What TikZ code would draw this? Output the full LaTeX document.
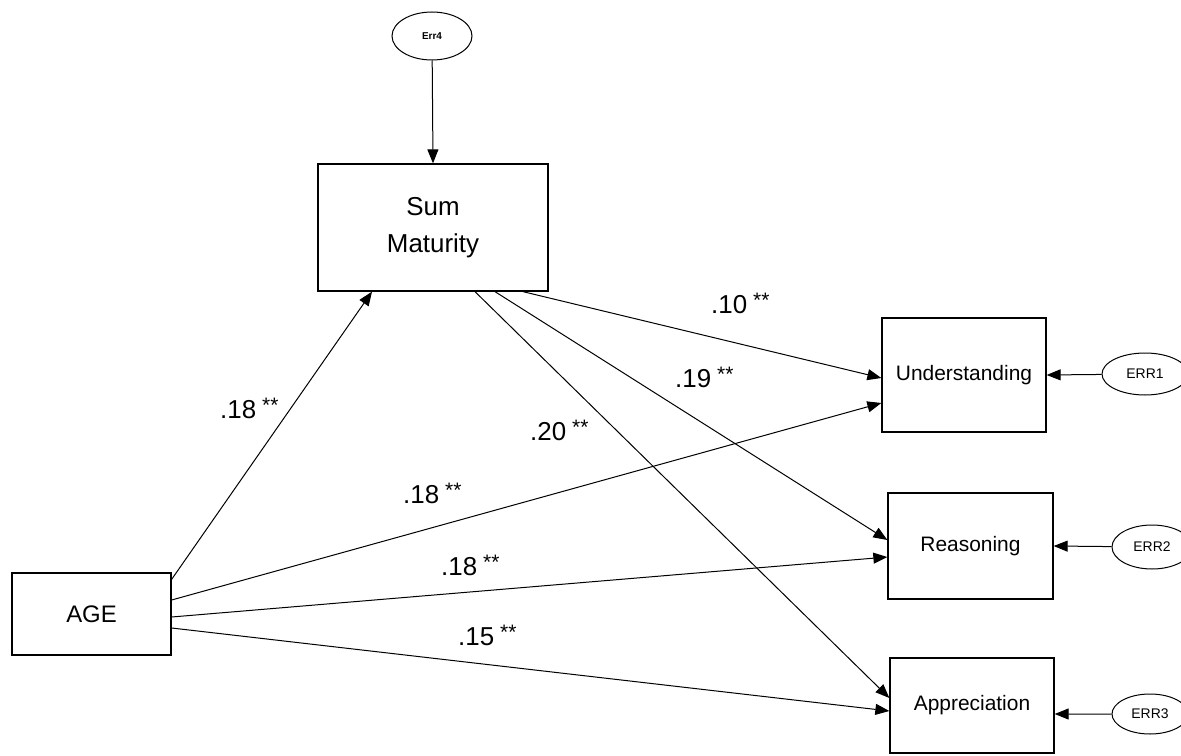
\documentclass[tikz,border=0pt]{standalone}
\usepackage{fontspec}
\setmainfont{Liberation Sans}
\usetikzlibrary{arrows.meta,shapes.geometric}
\newcommand{\stars}{\hspace{6bp}\raisebox{6bp}{\fontsize{21}{21}\selectfont **}}
\tikzset{
  varbox/.style={draw, line width=1.3bp, rectangle, inner sep=0pt, align=center},
  errnode/.style={draw, line width=1bp, ellipse, inner sep=0pt,
    font=\fontsize{14}{14}\selectfont},
  path/.style={line width=1bp, -{Triangle[length=14bp,width=11bp]}},
  coef/.style={inner sep=0pt, anchor=west, font=\fontsize{26}{26}\selectfont},
}
\begin{document}
\begin{tikzpicture}[x=1bp, y=-1bp]
\clip (0,0) rectangle (1181,756);
\fill[white] (0,0) rectangle (1181,756);

% observed variables
\node[varbox, minimum width=159bp, minimum height=82bp, font=\fontsize{24}{24}\selectfont] (age) at (91.5,614) {AGE};
\node[varbox, minimum width=230bp, minimum height=127bp, font=\fontsize{26}{37}\selectfont] (sum) at (433,227.5) {Sum\\Maturity};
\node[varbox, minimum width=164bp, minimum height=114bp, font=\fontsize{21}{21}\selectfont] (und) at (964,375) {Understanding};
\node[varbox, minimum width=165bp, minimum height=106bp, font=\fontsize{21}{21}\selectfont] (rea) at (970.5,546) {Reasoning};
\node[varbox, minimum width=164bp, minimum height=95bp, font=\fontsize{21}{21}\selectfont] (app) at (972,705.5) {Appreciation};

% error terms
\node[errnode, minimum width=80bp, minimum height=48bp, font=\fontsize{10}{10}\selectfont\bfseries] (e4) at (432,36) {Err4};
\node[errnode, minimum width=86bp, minimum height=42bp] (e1) at (1145,374) {ERR1};
\node[errnode, minimum width=80bp, minimum height=44bp] (e2) at (1152,547) {ERR2};
\node[errnode, minimum width=76bp, minimum height=40bp] (e3) at (1150,714) {ERR3};

% anchor points on the box borders (yshift is in page direction: + is up)
\coordinate (ageS) at ([yshift=-7bp]age.north east);
\coordinate (ageU) at ([yshift=14bp]age.east);
\coordinate (ageR) at ([yshift=-3bp]age.east);
\coordinate (ageA) at ([yshift=-14bp]age.east);
\coordinate (sumA) at ([xshift=42bp]sum.south);
\coordinate (sumR) at ([xshift=62bp]sum.south);
\coordinate (sumU) at ([xshift=90bp]sum.south);
\coordinate (sumIn) at ([xshift=-61bp]sum.south);

% structural paths
\draw[path] (e4) -- (sum.north);
\draw[path] (ageS) -- (sumIn);
\draw[path] (ageU) -- ([yshift=-28bp]und.west);
\draw[path] (ageR) -- ([yshift=-11bp]rea.west);
\draw[path] (ageA) -- ([yshift=-5.5bp]app.west);
\draw[path] (sumU) -- ([yshift=-3bp]und.west);
\draw[path] (sumR) -- ([yshift=6bp]rea.west);
\draw[path] (sumA) -- ([yshift=7.5bp]app.west);
\draw[path] (e1) -- (und.east);
\draw[path] (e2) -- (rea.east);
\draw[path] (e3) -- ([yshift=-8.5bp]app.east);

% path coefficients
\node[coef] (c1) at (711,303) {.10\stars};
\node[coef] (c2) at (675,377) {.19\stars};
\node[coef] (c3) at (530,430) {.20\stars};
\node[coef] (c4) at (220,408) {.18\stars};
\node[coef] (c5) at (403,493) {.18\stars};
\node[coef] (c6) at (441,565) {.18\stars};
\node[coef] (c7) at (458,635) {.15\stars};
\end{tikzpicture}
\end{document}
